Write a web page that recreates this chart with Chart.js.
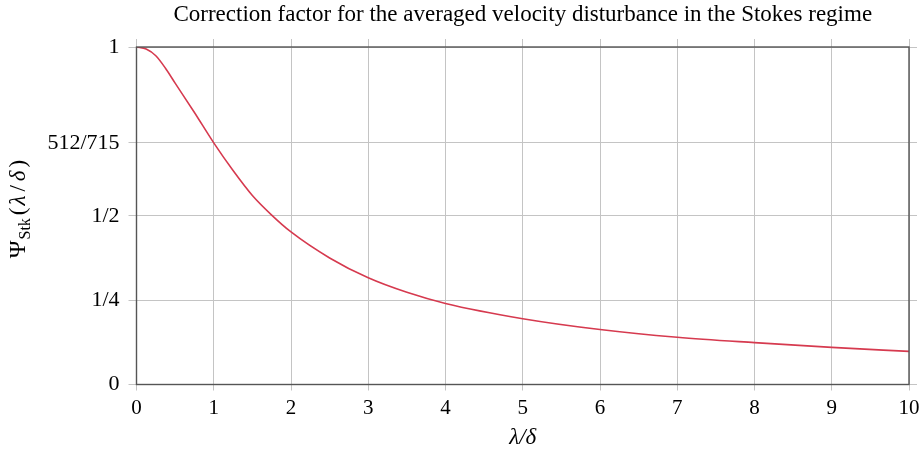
<!DOCTYPE html>
<html>
<head>
<meta charset="utf-8">
<script src="https://cdn.jsdelivr.net/npm/chart.js@4/dist/chart.umd.min.js"></script>
<style>
  html, body { margin: 0; padding: 0; background: #fff; }
  #wrap { width: 921px; height: 454px; }
</style>
</head>
<body>
<div id="wrap"><canvas id="chart" width="921" height="454"></canvas></div>
<script>
'use strict';

// lambda/delta samples and the correction factor
var lambdaOverDelta = [0, 0.125, 0.25, 0.375, 0.5, 0.75, 1, 1.25, 1.5, 1.75, 2, 2.5, 3, 3.5, 4, 5, 6, 7, 8, 9, 10];
var psiStk = [1, 0.994, 0.974, 0.937, 0.893, 0.806, 0.716, 0.634, 0.56, 0.502, 0.452, 0.375, 0.316, 0.273, 0.24, 0.195, 0.163, 0.14, 0.124, 0.11, 0.098];

var yTickValues = [0, 0.25, 0.5, 512 / 715, 1];
var yTickLabels = ['0', '1/4', '1/2', '512/715', '1'];
var xTickValues = [0, 1, 2, 3, 4, 5, 6, 7, 8, 9, 10];

var serif = '"Liberation Serif", "DejaVu Serif", serif';
var frameColor = '#555555';
var gridColor = '#c4c4c4';

var points = lambdaOverDelta.map(function(x, i) {
  return { x: x, y: psiStk[i] };
});

var setXTicks = function(scale) {
  scale.ticks = xTickValues.map(function(v) { return { value: v }; });
};
var setYTicks = function(scale) {
  scale.ticks = yTickValues.map(function(v) { return { value: v }; });
};

// frame around the plot area plus the rotated y label with its subscript
var framePlugin = {
  id: 'frame',
  afterDatasetsDraw: function(chart) {
    var ctx = chart.ctx, a = chart.chartArea;
    ctx.save();
    ctx.strokeStyle = frameColor;
    ctx.lineWidth = 1.4;
    ctx.strokeRect(a.left, a.top, a.right - a.left, a.bottom - a.top);
    ctx.restore();
  },
  afterDraw: function(chart) {
    var ctx = chart.ctx;
    var parts = [
      { text: 'Ψ', font: '24px ' + serif, dy: 0, gap: 1 },
      { text: 'Stk', font: '16px ' + serif, dy: 5, gap: 3 },
      { text: '(', font: '23px ' + serif, dy: 0, gap: 2 },
      { text: 'λ', font: 'italic 23px ' + serif, dy: 0, gap: 4 },
      { text: '/', font: '23px ' + serif, dy: 0, gap: 4 },
      { text: 'δ', font: 'italic 23px ' + serif, dy: 0, gap: 3 },
      { text: ')', font: '23px ' + serif, dy: 0, gap: 0 }
    ];
    ctx.save();
    var total = 0;
    parts.forEach(function(p) {
      ctx.font = p.font;
      p.w = ctx.measureText(p.text).width;
      total += p.w + p.gap;
    });
    ctx.translate(25, 209);
    ctx.rotate(-Math.PI / 2);
    ctx.fillStyle = '#000';
    ctx.textBaseline = 'alphabetic';
    var x = -total / 2;
    parts.forEach(function(p) {
      ctx.font = p.font;
      ctx.fillText(p.text, x, p.dy);
      x += p.w + p.gap;
    });
    ctx.restore();
  }
};

new Chart(document.getElementById('chart'), {
  type: 'line',
  data: {
    datasets: [{
      data: points,
      borderColor: '#d63a4f',
      borderWidth: 1.6,
      pointRadius: 0,
      fill: false,
      cubicInterpolationMode: 'monotone'
    }]
  },
  options: {
    responsive: false,
    animation: false,
    layout: { padding: 0 },
    plugins: {
      legend: { display: false },
      tooltip: { enabled: false },
      title: {
        display: true,
        fullSize: false,
        text: 'Correction factor for the averaged velocity disturbance in the Stokes regime',
        color: '#000',
        font: { family: serif, size: 23, weight: 'normal', lineHeight: 1.2 },
        padding: { top: 1, bottom: 9.4 }
      }
    },
    scales: {
      x: {
        type: 'linear',
        min: 0,
        max: 10,
        afterBuildTicks: setXTicks,
        afterFit: function(scale) {
          scale.height = 69.5;
          scale.paddingLeft = 0;
          scale.paddingRight = 0;
        },
        grid: { color: gridColor, lineWidth: 1, tickLength: 6, drawTicks: true },
        border: { display: false },
        ticks: {
          color: '#000',
          padding: 5,
          maxRotation: 0,
          font: { family: serif, size: 21 }
        },
        title: {
          display: true,
          text: 'λ/δ',
          color: '#000',
          font: { family: serif, size: 23, style: 'italic' },
          padding: { top: 0, bottom: 2 }
        }
      },
      xTop: {
        type: 'linear',
        position: 'top',
        min: 0,
        max: 10,
        afterBuildTicks: setXTicks,
        afterFit: function(scale) {
          scale.height = 9;
          scale.paddingLeft = 0;
          scale.paddingRight = 0;
        },
        grid: { color: gridColor, lineWidth: 1, tickLength: 8, drawOnChartArea: false },
        border: { display: false },
        ticks: { display: false }
      },
      y: {
        min: 0,
        max: 1,
        afterBuildTicks: setYTicks,
        afterFit: function(scale) { scale.width = 136.5; },
        grid: { color: gridColor, lineWidth: 1, tickLength: 8, drawTicks: true },
        border: { display: false },
        ticks: {
          color: '#000',
          padding: 9,
          font: { family: serif, size: 22 },
          callback: function(value) {
            var i = yTickValues.indexOf(value);
            return i >= 0 ? yTickLabels[i] : '';
          }
        }
      },
      yRight: {
        position: 'right',
        min: 0,
        max: 1,
        afterBuildTicks: setYTicks,
        afterFit: function(scale) { scale.width = 12; },
        grid: { color: gridColor, lineWidth: 1, tickLength: 8, drawOnChartArea: false },
        border: { display: false },
        ticks: { display: false }
      }
    }
  },
  plugins: [framePlugin]
});
</script>
</body>
</html>
